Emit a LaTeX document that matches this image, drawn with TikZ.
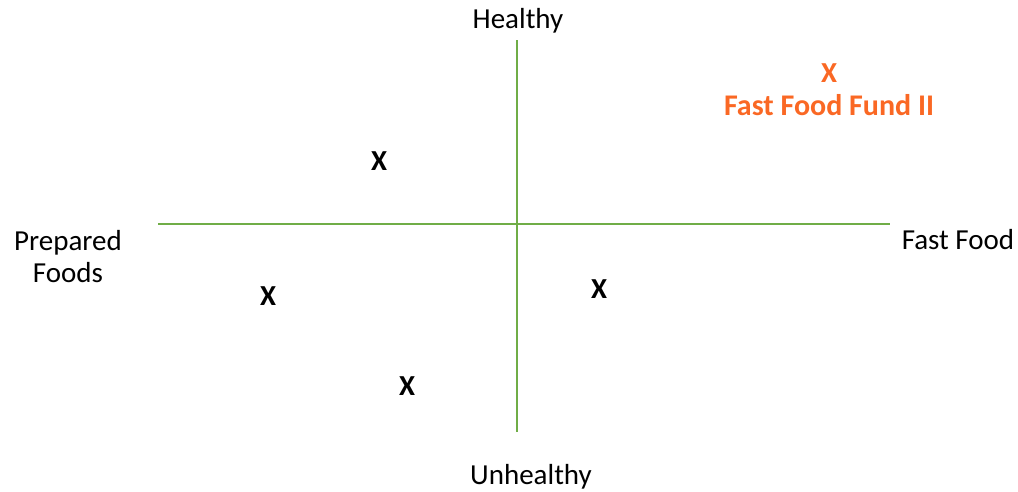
\documentclass[tikz,border=0pt]{standalone}
\usepackage{fontspec}
\setmainfont{Carlito}
\definecolor{axisgreen}{RGB}{112,173,71}
\definecolor{fundorange}{RGB}{250,104,36}
\begin{document}
\begin{tikzpicture}[x=1pt,y=-1pt,
  lbl/.style={font=\fontsize{29}{34}\selectfont, inner sep=0pt, align=center},
  pointx/.style={font=\fontsize{29}{34}\selectfont\bfseries, inner sep=0pt},
  axisline/.style={draw=axisgreen, line width=2pt}]
  \useasboundingbox (0,0) rectangle (1018,491);
  % axes
  \coordinate (top) at (517,40);
  \coordinate (bottom) at (517,432);
  \coordinate (left) at (158,224);
  \coordinate (right) at (890,224);
  \draw[axisline] (top) -- (bottom);
  \draw[axisline] (left) -- (right);
  % axis labels
  \node[lbl] (healthy) at (518,21) {Healthy};
  \node[lbl] (unhealthy) at (531,477) {Unhealthy};
  \node[lbl] (prepared) at (68,257) {Prepared\\[-2pt]Foods};
  \node[lbl] (fastfood) at (958,240) {Fast Food};
  % positions
  \node[pointx] (p1) at (379,161) {X};
  \node[pointx] (p2) at (268,296) {X};
  \node[pointx] (p3) at (599,289) {X};
  \node[pointx] (p4) at (407,386) {X};
  \node[pointx, text=fundorange] (fund) at (829,73) {X};
  \node[pointx, text=fundorange, font=\fontsize{30}{34}\selectfont\bfseries] (fundname) at (829,105) {Fast Food Fund II};
\end{tikzpicture}
\end{document}
